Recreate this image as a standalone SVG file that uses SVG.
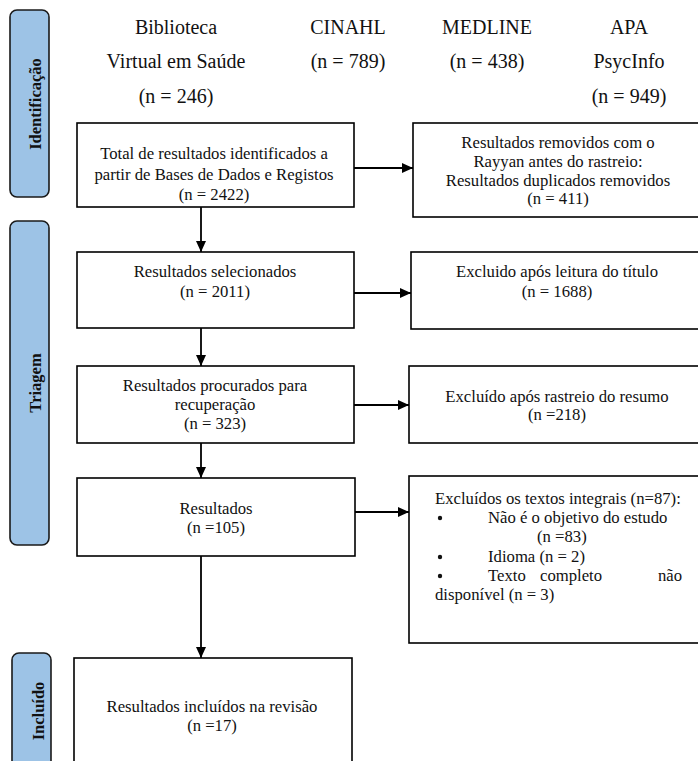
<svg xmlns="http://www.w3.org/2000/svg" width="698" height="761" viewBox="0 0 698 761" font-family="Liberation Serif, Tinos, Times New Roman, DejaVu Serif, serif">
<style>
  .bg { fill: #ffffff; }
  .box { fill: #ffffff; stroke: #000000; stroke-width: 1.6; }
  .pill { fill: #9dc3e6; stroke: #1a1a1a; stroke-width: 1.6; }
  .t { font-size: 16.7px; fill: #111111; }
  .h { font-size: 20px; fill: #111111; text-anchor: middle; }
  .c { text-anchor: middle; }
  .lab { font-size: 16.5px; font-weight: bold; fill: #111111; text-anchor: middle; }
  .conn { stroke: #000000; stroke-width: 1.8; fill: none; marker-end: url(#arr); }
</style>
<defs>
  <marker id="arr" markerUnits="userSpaceOnUse" markerWidth="12" markerHeight="10" refX="11" refY="5" orient="auto">
    <path d="M0,0 L11,5 L0,10 Z" fill="#000000"/>
  </marker>
</defs>
<rect class="bg" x="0" y="0" width="698" height="761"/>

<g id="sources">
  <text class="h" x="176" y="34">Biblioteca</text>
  <text class="h" x="176" y="68">Virtual em Saúde</text>
  <text class="h" x="176" y="103">(n = 246)</text>
  <text class="h" x="348" y="34">CINAHL</text>
  <text class="h" x="348" y="68">(n = 789)</text>
  <text class="h" x="487" y="34">MEDLINE</text>
  <text class="h" x="487" y="68">(n = 438)</text>
  <text class="h" x="629" y="34">APA</text>
  <text class="h" x="629" y="68">PsycInfo</text>
  <text class="h" x="629" y="103">(n = 949)</text>
</g>

<g id="stage-identificacao">
  <rect class="pill" x="10" y="10" width="39" height="187" rx="7"/>
  <text class="lab" transform="translate(41,104) rotate(-90)">Identificação</text>
</g>
<g id="stage-triagem">
  <rect class="pill" x="10" y="221" width="39" height="324" rx="7"/>
  <text class="lab" transform="translate(41,383) rotate(-90)">Triagem</text>
</g>
<g id="stage-incluido">
  <rect class="pill" x="12" y="653" width="39" height="130" rx="7"/>
  <text class="lab" transform="translate(44,711) rotate(-90)">Incluído</text>
</g>

<g id="n-total">
  <rect class="box" x="77" y="123" width="277" height="84"/>
  <text class="t c" x="214" y="159">Total de resultados identificados a</text>
  <text class="t c" x="214" y="180">partir de Bases de Dados e Registos</text>
  <text class="t c" x="214" y="200">(n = 2422)</text>
</g>
<g id="n-removidos">
  <rect class="box" x="413" y="123" width="300" height="94"/>
  <text class="t c" x="558" y="148">Resultados removidos com o</text>
  <text class="t c" x="558" y="167">Rayyan antes do rastreio:</text>
  <text class="t c" x="558" y="186">Resultados duplicados removidos</text>
  <text class="t c" x="558" y="204">(n = 411)</text>
</g>
<g id="n-selecionados">
  <rect class="box" x="77" y="252" width="277" height="76"/>
  <text class="t c" x="215" y="277">Resultados selecionados</text>
  <text class="t c" x="215" y="297">(n = 2011)</text>
</g>
<g id="n-titulo">
  <rect class="box" x="411" y="252" width="300" height="77"/>
  <text class="t c" x="557" y="277">Excluido após leitura do título</text>
  <text class="t c" x="557" y="297">(n = 1688)</text>
</g>
<g id="n-procurados">
  <rect class="box" x="77" y="366" width="277" height="77"/>
  <text class="t c" x="215" y="391">Resultados procurados para</text>
  <text class="t c" x="215" y="410">recuperação</text>
  <text class="t c" x="215" y="429">(n = 323)</text>
</g>
<g id="n-resumo">
  <rect class="box" x="409" y="366" width="300" height="77"/>
  <text class="t c" x="557" y="402">Excluído após rastreio do resumo</text>
  <text class="t c" x="557" y="420">(n =218)</text>
</g>
<g id="n-resultados">
  <rect class="box" x="77" y="478" width="278" height="78"/>
  <text class="t c" x="216" y="514">Resultados</text>
  <text class="t c" x="216" y="533">(n =105)</text>
</g>
<g id="n-excluidos">
  <rect class="box" x="409" y="476" width="300" height="167"/>
  <text class="t" x="435" y="504">Excluídos os textos integrais (n=87):</text>
  <circle cx="440" cy="518" r="2.2" fill="#111"/>
  <text class="t" x="488" y="523">Não é o objetivo do estudo</text>
  <text class="t" x="537" y="542">(n =83)</text>
  <circle cx="440" cy="557" r="2.2" fill="#111"/>
  <text class="t" x="488" y="562">Idioma (n = 2)</text>
  <circle cx="440" cy="576" r="2.2" fill="#111"/>
  <text class="t" x="488" y="581">Texto</text>
  <text class="t" x="540" y="581">completo</text>
  <text class="t" x="658" y="581">não</text>
  <text class="t" x="435" y="600">disponível (n = 3)</text>
</g>
<g id="n-incluidos">
  <rect class="box" x="74" y="658" width="278" height="130"/>
  <text class="t c" x="212" y="712">Resultados incluídos na revisão</text>
  <text class="t c" x="212" y="731">(n =17)</text>
</g>

<g id="connectors">
  <line class="conn" x1="201" y1="207" x2="201" y2="252"/>
  <line class="conn" x1="201" y1="328" x2="201" y2="366"/>
  <line class="conn" x1="201" y1="443" x2="201" y2="478"/>
  <line class="conn" x1="201" y1="556" x2="201" y2="658"/>
  <line class="conn" x1="354" y1="168" x2="413" y2="168"/>
  <line class="conn" x1="354" y1="293" x2="411" y2="293"/>
  <line class="conn" x1="354" y1="405" x2="409" y2="405"/>
  <line class="conn" x1="355" y1="512" x2="409" y2="512"/>
</g>
</svg>
